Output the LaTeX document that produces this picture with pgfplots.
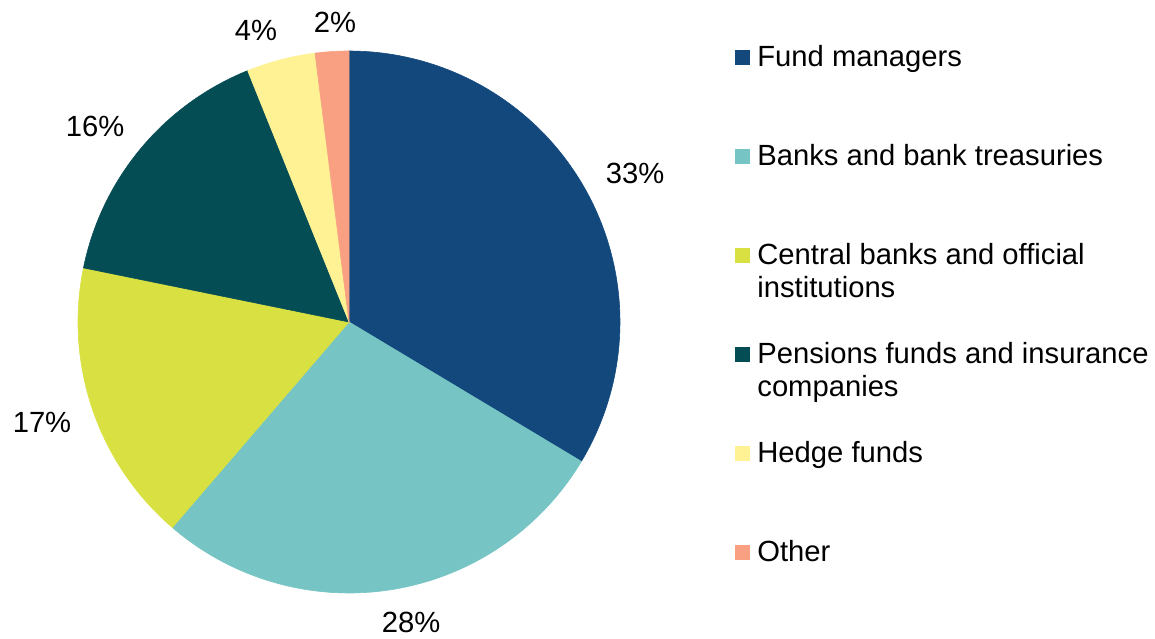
\documentclass[border=0pt]{standalone}
\usepackage{pgfplots}
\pgfplotsset{compat=1.18}
\usepackage{fontspec}
\setmainfont{Liberation Sans}
\definecolor{cFM}{HTML}{13487D}
\definecolor{cBK}{HTML}{76C4C4}
\definecolor{cCB}{HTML}{D9E142}
\definecolor{cPF}{HTML}{054D55}
\definecolor{cHF}{HTML}{FEF294}
\definecolor{cOT}{HTML}{FAA082}
\newcommand\lblfont{\fontsize{14.6bp}{16.5bp}\selectfont}
\tikzset{legtext/.style={anchor=base west, inner sep=0pt, font=\lblfont},
  dlab/.style={font=\lblfont}}
\pgfplotsset{slice/.style={draw=#1, line width=0.3pt, fill=#1, samples=80, variable=\t, no marks}}
% shares in percent (clockwise from 12 o'clock)
\def\vA{33.6}\def\vB{27.7}\def\vC{16.9}\def\vD{15.7}\def\vE{4.1}\def\vF{2.0}
\begin{document}
\begin{tikzpicture}[font=\lblfont]
\pgfmathsetmacro\aA{90}
\pgfmathsetmacro\aB{\aA-3.6*\vA}
\pgfmathsetmacro\aC{\aB-3.6*\vB}
\pgfmathsetmacro\aD{\aC-3.6*\vC}
\pgfmathsetmacro\aE{\aD-3.6*\vD}
\pgfmathsetmacro\aF{\aE-3.6*\vE}
\pgfmathsetmacro\aG{\aF-3.6*\vF}
\begin{axis}[
  width=577.5bp, height=318bp, scale only axis,
  xmin=0, xmax=1155, ymin=0, ymax=636,
  axis line style={draw=none}, xtick=\empty, ytick=\empty,
  clip=false,
]
\addplot[slice=cFM, domain=\aA:\aB] ({349+271*cos(\t)},{314+271*sin(\t)}) -- (axis cs:349,314) -- cycle;
\addplot[slice=cBK, domain=\aB:\aC] ({349+271*cos(\t)},{314+271*sin(\t)}) -- (axis cs:349,314) -- cycle;
\addplot[slice=cCB, domain=\aC:\aD] ({349+271*cos(\t)},{314+271*sin(\t)}) -- (axis cs:349,314) -- cycle;
\addplot[slice=cPF, domain=\aD:\aE] ({349+271*cos(\t)},{314+271*sin(\t)}) -- (axis cs:349,314) -- cycle;
\addplot[slice=cHF, domain=\aE:\aF] ({349+271*cos(\t)},{314+271*sin(\t)}) -- (axis cs:349,314) -- cycle;
\addplot[slice=cOT, domain=\aF:\aG] ({349+271*cos(\t)},{314+271*sin(\t)}) -- (axis cs:349,314) -- cycle;
% data labels
\node[dlab] at (axis cs:635,463) {33\%};
\node[dlab] at (axis cs:411,14) {28\%};
\node[dlab] at (axis cs:42,214) {17\%};
\node[dlab] at (axis cs:95,510) {16\%};
\node[dlab] at (axis cs:256,606) {4\%};
\node[dlab] at (axis cs:335,614) {2\%};
% legend
\fill[cFM] (axis cs:735,571) rectangle (axis cs:750,586);
\node[legtext] at (axis cs:757,569.5) {Fund managers};
\fill[cBK] (axis cs:735,472) rectangle (axis cs:750,487);
\node[legtext] at (axis cs:757,470.5) {Banks and bank treasuries};
\fill[cCB] (axis cs:735,373) rectangle (axis cs:750,388);
\node[legtext] at (axis cs:757,371.5) {Central banks and official};
\node[legtext] at (axis cs:757,338.5) {institutions};
\fill[cPF] (axis cs:735,274) rectangle (axis cs:750,289);
\node[legtext] at (axis cs:757,272.5) {Pensions funds and insurance};
\node[legtext] at (axis cs:757,239.5) {companies};
\fill[cHF] (axis cs:735,175) rectangle (axis cs:750,190);
\node[legtext] at (axis cs:757,173.5) {Hedge funds};
\fill[cOT] (axis cs:735,76) rectangle (axis cs:750,91);
\node[legtext] at (axis cs:757,74.5) {Other};
\end{axis}
\end{tikzpicture}
\end{document}
